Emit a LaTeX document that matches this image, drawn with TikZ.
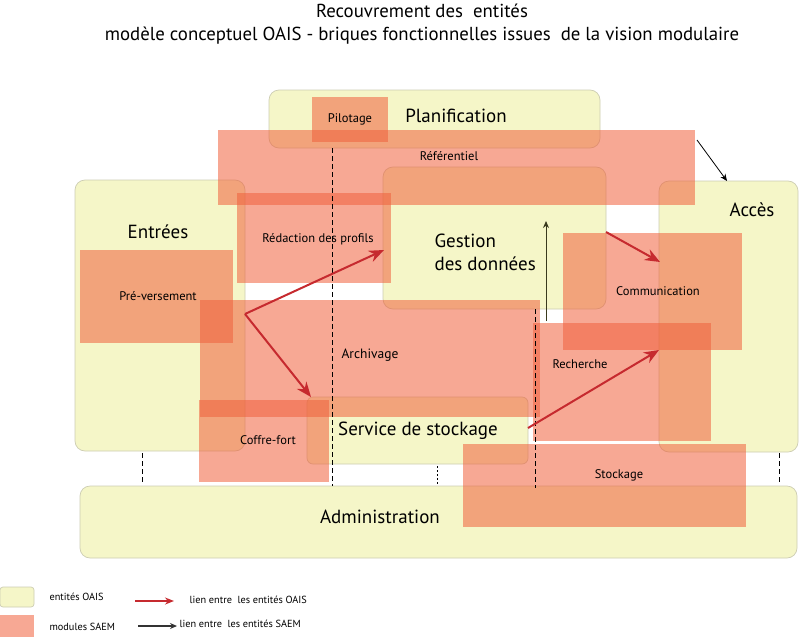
\documentclass[tikz,border=0pt]{standalone}
\usepackage{fontspec}
\setmainfont{PT Sans}
\usetikzlibrary{arrows.meta,positioning}

\definecolor{oaisfill}{HTML}{F5F6C8}
\definecolor{oaisline}{HTML}{CDCDB2}
\definecolor{saemfill}{HTML}{F0603C}
\definecolor{lienrouge}{HTML}{C62A2F}
\definecolor{lienolive}{HTML}{3A3A1E}

\tikzset{
  oais/.style={fill=oaisfill, draw=oaisline, line width=0.7pt, rounded corners=10pt},
  saem/.style={fill=saemfill, fill opacity=0.55},
  grand/.style={font=\fontsize{19}{23}\selectfont},
  petit/.style={font=\fontsize{12.5}{14}\selectfont},
  legende/.style={font=\fontsize{10.3}{12}\selectfont, anchor=west},
  lienoais/.style={-{Stealth[length=15pt,width=12pt]}, lienrouge, line width=2pt},
  liensaem/.style={-{Stealth[length=7pt,width=6pt]}, black, line width=0.8pt},
  pointille/.style={dashed, dash pattern=on 5pt off 3pt, line width=0.8pt}
}

\begin{document}
\begin{tikzpicture}[x=1pt,y=-1pt]
    \useasboundingbox (0,0) rectangle (800,637);

      \node(titre) at (422,24) [align=center, font=\fontsize{18.8}{23}\selectfont]
        {Recouvrement des\ \ entités\\modèle conceptuel OAIS - briques fonctionnelles issues\ \ de la vision modulaire};

      \node(plan) at (434.5,119) [oais, minimum width=331, minimum height=58] {};
      \node(entr) at (160,315.5) [oais, minimum width=170, minimum height=271] {};
      \node(gest) at (494.5,238) [oais, minimum width=223, minimum height=142] {};
      \node(acces) at (728.5,316.5) [oais, minimum width=139, minimum height=271] {};
      \node(serv) at (417.5,430.5) [oais, rounded corners=6pt, minimum width=221, minimum height=67] {};
      \node(admin) at (438.5,522) [oais, minimum width=717, minimum height=72] {};

      \node(pilot) at (350,119.5) [saem, minimum width=76, minimum height=45] {};
      \node(refer) at (456.5,167.5) [saem, minimum width=477, minimum height=75] {};
      \node(redac) at (314,238) [saem, minimum width=154, minimum height=90] {};
      \node(prever) at (156.5,296.5) [saem, minimum width=153, minimum height=93] {};
      \node(archi) at (370,358.5) [saem, minimum width=340, minimum height=117] {};
      \node(coffre) at (264,441) [saem, minimum width=130, minimum height=82] {};
      \node(recher) at (622,382) [saem, minimum width=178, minimum height=118] {};
      \node(commu) at (652.5,291.5) [saem, minimum width=179, minimum height=117] {};
      \node(stock) at (604.5,485.5) [saem, minimum width=283, minimum height=83] {};

      \node(planlbl) at (456,116) [grand] {Planification};
      \node(entrlbl) at (158,232) [grand] {Entrées};
      \node(gestlbl) at (431,252.5) [grand, align=left, anchor=west] {Gestion\\des données};
      \node(acceslbl) at (752,210) [grand] {Accès};
      \node(servlbl) at (418,431) [grand] {Service de stockage};
      \node(adminlbl) at (380,517) [grand] {Administration};

      \node(pilotlbl) at (350,119) [petit] {Pilotage};
      \node(referlbl) at (449,156) [petit] {Référentiel};
      \node(redaclbl) at (318,239) [petit] {Rédaction des profils};
      \node(preverlbl) at (158,296) [petit] {Pré-versement};
      \node(archilbl) at (370,355) [font=\fontsize{13.5}{15}\selectfont] {Archivage};
      \node(coffrelbl) at (268,440) [petit] {Coffre-fort};
      \node(recherlbl) at (580,364) [petit] {Recherche};
      \node(commulbl) at (658,291) [petit] {Communication};
      \node(stocklbl) at (619,475) [petit] {Stockage};

    \draw[pointille] (332,148) -- (332,486);
    \draw[pointille] (535,309) -- (535,488);
    \draw[pointille] (142,453) -- (142,484);
    \draw[pointille] (779,453) -- (779,484);
    \draw[dashed, dash pattern=on 2pt off 2pt, line width=0.6pt] (437,466) -- (437,484);

      \coordinate(fourche) at (245,314);
      \coordinate(gestin) at (384,250);
      \coordinate(servin) at (311,397);
      \coordinate(gestout) at (606,232);
      \coordinate(accin) at (660,262);
      \coordinate(servout) at (528,428);
      \coordinate(accrech) at (659,350);
      \coordinate(referout) at (697,140);
      \coordinate(acchaut) at (727,181);
      \coordinate(recherbas) at (546,321);
      \coordinate(gesthaut) at (546,221);

    \draw[lienoais] (fourche) -- (gestin);
    \draw[lienoais] (fourche) -- (servin);
    \draw[lienoais] (gestout) -- (accin);
    \draw[lienoais] (servout) -- (accrech);
    \draw[liensaem] (referout) -- (acchaut);
    \draw[liensaem, lienolive, line width=1pt] (recherbas) -- (gesthaut);

      \node(legoais) at (17,597) [oais, rounded corners=3pt, minimum width=34, minimum height=20] {};
      \node(legsaem) at (17,626) [saem, minimum width=34, minimum height=22] {};
      \node(legoaislbl) at (46,597) [legende] {entités OAIS};
      \node(legsaemlbl) at (46,627) [legende] {modules SAEM};
      \coordinate(legrougea) at (135,601);
      \coordinate(legrougeb) at (174,601);
      \coordinate(legnoira) at (138,626);
      \coordinate(legnoirb) at (177,626);
    \draw[-{Stealth[length=9pt,width=7pt]}, lienrouge, line width=1.6pt] (legrougea) -- (legrougeb);
    \draw[-{Stealth[length=7pt,width=6pt]}, black!80, line width=1.2pt] (legnoira) -- (legnoirb);
      \node(legrougelbl) at (186,600) [legende] {lien entre\ \ les entités OAIS};
      \node(legnoirlbl) at (176,624) [legende] {lien entre\ \ les entités SAEM};
  \end{tikzpicture}
\end{document}
